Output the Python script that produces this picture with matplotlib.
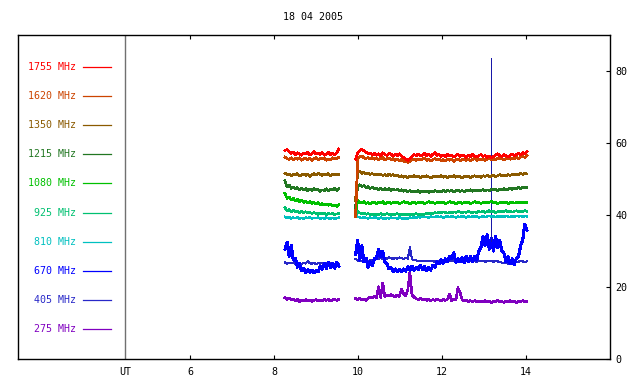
import numpy as np
import matplotlib
matplotlib.use("Agg")
import matplotlib.pyplot as plt

title = "18 04 2005"
freqs = ["1755", "1620", "1350", "1215", "1080", "925", "810", "670", "405", "275"]
colors = ["#ff0000", "#cc4400", "#8b5a00", "#227722", "#00c000",
          "#00c070", "#00c0c0", "#0000ff", "#2828c8", "#8000c0"]

# sampling times (UT hours) of the two recording segments
seg1_start, seg1_end, seg1_n = 8.26, 9.54, 27
seg2_start, seg2_end, seg2_n = 9.94, 14.02, 83

f1755_a = [57.9, 58.2, 57.6, 57.1, 57.5, 56.8, 57.3, 57.0, 56.6, 57.2, 56.9, 57.4, 56.7, 57.1, 57.6, 56.9, 57.2, 56.8, 57.3, 56.6, 57.0, 57.4, 56.8, 57.1, 56.7, 57.2, 58.3]
f1755_b = [55.5, 57.2, 57.9, 58.3, 57.8, 57.5, 57.0, 57.2, 56.8, 57.1,
           56.6, 57.0, 56.5, 57.3, 56.8, 56.6, 57.1, 56.9, 56.4, 56.8,
           56.5, 57.0, 56.3, 56.0, 55.5, 55.2, 55.6, 56.3, 56.8, 56.5,
           56.9, 56.4, 56.7, 57.1, 56.5, 56.8, 56.3, 56.9, 57.3, 56.6,
           56.8, 56.3, 56.7, 56.2, 56.9, 56.4, 56.7, 56.1, 56.5, 56.9,
           56.3, 56.7, 56.4, 56.0, 56.6, 56.2, 56.8, 56.4, 56.1, 56.5,
           56.8, 56.3, 56.5, 56.0, 56.4, 55.9, 56.2, 56.7, 57.0, 56.5,
           56.3, 56.8, 56.5, 56.2, 56.6, 56.9, 56.4, 56.8, 57.1, 56.7,
           57.3, 57.0, 57.6]

f1620_a = [56.1, 55.7, 55.4, 55.9, 55.3, 55.8, 55.5, 55.9, 55.2, 55.6, 55.8, 55.4, 55.7, 55.1, 55.6, 55.9, 55.3, 55.7, 55.5, 55.8, 55.2, 55.6, 55.4, 55.9, 55.5, 55.7, 56.0]
f1620_b = [39.5, 55.6, 56.2, 56.4, 55.9, 55.7, 56.0, 55.6, 55.9, 55.5,
           55.8, 55.4, 55.7, 55.9, 55.3, 55.6, 55.8, 55.4, 55.7, 55.2,
           55.5, 55.1, 55.4, 54.9, 55.0, 54.6, 54.9, 55.3, 55.5, 55.2,
           55.6, 55.3, 55.5, 55.8, 55.2, 55.5, 55.0, 55.4, 55.7, 55.3,
           55.6, 55.1, 55.4, 55.0, 55.5, 55.2, 55.6, 54.9, 55.3, 55.5,
           55.1, 55.4, 55.6, 55.2, 55.5, 55.0, 55.4, 55.7, 55.2, 55.5,
           55.3, 55.6, 55.2, 55.5, 55.7, 55.3, 55.6, 55.4, 55.8, 55.5,
           55.7, 55.3, 55.6, 55.9, 55.5, 55.8, 55.6, 56.0, 55.7, 56.1,
           56.3, 56.0, 56.5]

f1350_a = [51.6, 51.2, 51.4, 50.9, 51.3, 51.1, 51.5, 50.8, 51.2, 51.4, 51.0, 51.3, 50.7, 51.2, 51.5, 51.1, 51.6, 51.3, 51.0, 51.4, 51.2, 51.5, 50.9, 51.3, 51.1, 51.4, 51.2]
f1350_b = [44.0, 51.9, 52.1, 51.6, 51.8, 51.4, 51.7, 51.3, 51.5, 51.2,
           51.4, 51.1, 51.3, 51.0, 51.2, 50.9, 51.3, 51.0, 51.2, 50.8,
           51.1, 50.7, 50.9, 50.5, 50.8, 50.4, 50.7, 50.5, 50.9, 50.6,
           50.8, 50.4, 50.7, 50.5, 50.9, 50.6, 50.3, 50.7, 50.5, 50.8,
           50.6, 50.9, 50.5, 50.8, 50.4, 50.7, 50.6, 50.9, 50.5, 50.8,
           50.6, 50.3, 50.7, 50.5, 50.8, 50.4, 50.7, 50.9, 50.6, 50.8,
           50.5, 50.9, 50.7, 51.0, 50.6, 50.8, 51.1, 50.7, 50.9, 51.2,
           50.8, 51.1, 50.9, 51.2, 51.0, 51.3, 51.1, 51.4, 51.2, 51.5,
           51.3, 51.5, 51.4]

f1215_a = [49.5, 47.8, 48.3, 47.4, 47.8, 47.2, 47.6, 47.0, 47.5, 46.9, 47.3, 46.7, 47.2, 46.8, 47.4, 46.9, 47.1, 46.6, 47.0, 46.8, 47.3, 46.7, 47.1, 46.9, 47.4, 46.8, 47.2]
f1215_b = [42.0, 48.1, 48.4, 47.9, 48.2, 47.6, 47.9, 47.4, 47.7, 47.2,
           47.5, 47.1, 47.4, 46.9, 47.3, 47.0, 47.4, 46.8, 47.2, 46.9,
           47.1, 46.7, 47.0, 46.6, 46.9, 46.5, 46.8, 46.4, 46.7, 46.5,
           46.8, 46.3, 46.6, 46.4, 46.7, 46.3, 46.6, 46.4, 46.8, 46.5,
           46.7, 46.4, 46.8, 46.5, 46.9, 46.6, 46.8, 46.4, 46.7, 46.9,
           46.6, 46.8, 46.5, 46.9, 46.7, 47.0, 46.6, 46.9, 46.7, 47.0,
           46.8, 47.1, 46.7, 47.0, 46.8, 47.2, 46.9, 47.1, 46.8, 47.2,
           47.0, 47.3, 46.9, 47.2, 47.4, 47.1, 47.5, 47.2, 47.6, 47.4,
           47.7, 47.5, 47.6]

f1080_a = [46.0, 44.6, 45.0, 44.2, 44.6, 43.9, 44.3, 43.7, 44.1, 43.5, 43.8, 43.4, 43.7, 43.2, 43.5, 43.1, 43.4, 42.9, 43.2, 42.8, 43.1, 42.7, 42.9, 42.5, 42.8, 42.4, 42.9]
f1080_b = [40.5, 44.0, 43.6, 43.3, 43.7, 43.2, 43.5, 43.1, 43.4, 43.6,
           43.2, 43.5, 43.3, 43.7, 43.1, 43.4, 43.6, 43.2, 43.5, 43.3,
           43.6, 43.2, 43.4, 43.7, 43.3, 43.5, 43.1, 43.4, 43.6, 43.2,
           43.5, 43.3, 43.6, 43.2, 43.4, 43.7, 43.3, 43.5, 43.2, 43.4,
           43.6, 43.3, 43.5, 43.2, 43.4, 43.7, 43.3, 43.5, 43.1, 43.4,
           43.6, 43.2, 43.5, 43.3, 43.6, 43.2, 43.4, 43.7, 43.3, 43.5,
           43.2, 43.4, 43.6, 43.3, 43.5, 43.8, 43.3, 43.5, 43.2, 43.4,
           43.6, 43.3, 43.5, 43.2, 43.4, 43.6, 43.3, 43.5, 43.4, 43.6,
           43.3, 43.5, 43.4]

f925_a = [42.0, 41.2, 41.5, 40.9, 41.3, 40.8, 41.1, 40.7, 41.0, 40.6, 40.9, 40.5, 40.8, 40.4, 40.7, 40.5, 40.2, 40.6, 40.3, 40.5, 40.1, 40.4, 40.2, 40.5, 40.1, 40.3, 40.4]
f925_b = [39.8, 41.0, 40.6, 40.3, 40.5, 40.2, 40.4, 40.1, 40.3, 40.0,
          40.3, 40.1, 40.4, 40.0, 40.2, 40.4, 40.1, 40.3, 40.0, 40.2,
          40.4, 40.1, 40.3, 40.0, 40.2, 40.1, 40.3, 40.0, 40.2, 40.4,
          40.1, 40.3, 40.0, 40.2, 40.5, 40.3, 40.6, 40.4, 40.7, 40.5,
          40.8, 40.6, 40.9, 40.7, 40.5, 40.8, 40.6, 40.9, 40.7, 41.0,
          40.8, 40.6, 40.9, 40.7, 41.0, 40.8, 40.6, 40.9, 40.7, 41.0,
          40.8, 41.1, 40.7, 40.9, 41.2, 40.8, 41.0, 40.7, 40.9, 41.1,
          40.8, 41.0, 41.2, 40.9, 41.1, 40.8, 41.0, 41.2, 40.9, 41.1,
          41.0, 41.2, 41.0]

f810_a = [39.5, 39.2, 39.4, 39.0, 39.3, 39.1, 39.4, 39.0, 39.2, 38.9, 39.3, 39.1, 39.4, 39.0, 39.2, 39.1, 39.3, 38.9, 39.2, 39.0, 39.3, 39.1, 38.9, 39.2, 39.0, 39.1, 39.3]
f810_b = [39.6, 39.5, 39.3, 39.1, 39.4, 39.2, 39.0, 39.3, 39.1, 39.4,
          39.2, 39.0, 39.3, 39.1, 38.9, 39.2, 39.0, 39.3, 39.1, 39.2,
          39.0, 39.3, 39.1, 38.9, 39.2, 39.0, 39.3, 39.1, 39.4, 39.2,
          39.5, 39.3, 39.6, 39.4, 39.5, 39.3, 39.6, 39.4, 39.5, 39.7,
          39.4, 39.6, 39.3, 39.5, 39.7, 39.4, 39.6, 39.5, 39.3, 39.6,
          39.4, 39.7, 39.5, 39.3, 39.6, 39.4, 39.7, 39.5, 39.6, 39.3,
          39.5, 39.7, 39.4, 39.6, 39.8, 39.5, 39.7, 39.4, 39.6, 39.5,
          39.7, 39.5, 39.8, 39.6, 39.4, 39.7, 39.5, 39.8, 39.6, 39.7,
          39.5, 39.7, 39.6]

f670_a = [30.5, 32.5, 28.5, 31.5, 27.5, 28.0, 25.5, 26.5, 24.5, 25.2, 24.0, 24.8, 24.1, 24.7, 24.0, 24.6, 24.2, 25.8, 25.0, 26.5, 25.2, 26.8, 25.3, 26.6, 25.2, 26.8, 25.8]
f670_b = [29.0, 33.0, 27.5, 31.5, 27.0, 28.0, 25.5, 27.0, 26.0, 27.8,
          28.0, 30.5, 28.5, 30.0, 27.0, 26.5, 25.0, 25.3, 24.3, 25.0,
          24.2, 24.9, 24.3, 25.0, 24.4, 25.6, 24.6, 25.8, 24.7, 25.5,
          24.8, 26.0, 24.9, 25.6, 24.5, 25.5, 24.7, 26.0, 25.5, 27.0,
          26.5, 27.6, 26.6, 27.8, 27.0, 28.5, 27.8, 29.5, 26.8, 27.8,
          27.0, 28.2, 26.8, 28.5, 27.0, 28.4, 27.1, 28.6, 27.5, 30.0,
          31.0, 34.0, 31.5, 34.5, 30.5, 33.5, 30.0, 34.0, 31.0, 33.0,
          30.0, 29.5, 27.0, 28.5, 26.5, 27.8, 26.2, 28.0, 28.5, 31.5,
          33.0, 37.5, 35.8]
f670_spike_t = 13.16
f670_spike_v = 83.6

f405_a = [26.8, 26.5, 26.7, 26.6, 26.8, 26.5, 26.7, 26.6, 26.4, 26.7, 26.5, 27.2, 26.6, 26.5, 26.7, 26.4, 26.6, 26.5, 26.7, 26.4, 26.6, 26.5, 26.7, 26.5, 26.4, 26.6, 26.5]
f405_b = [27.8, 27.4, 27.2, 27.3, 27.1, 27.3, 27.2, 27.4, 27.3, 27.6,
          27.8, 27.9, 28.0, 27.8, 28.1, 27.9, 28.2, 28.0, 27.8, 28.1,
          27.9, 28.2, 28.0, 27.8, 28.1, 27.9, 31.0, 27.7, 27.5, 27.4,
          27.2, 27.3, 27.1, 27.3, 27.2, 27.1, 27.3, 27.2, 27.0, 27.2,
          27.3, 27.1, 27.2, 27.0, 27.3, 27.1, 27.2, 27.4, 27.1, 27.3,
          27.2, 27.0, 27.3, 27.1, 27.2, 27.4, 27.1, 27.3, 27.0, 27.2,
          27.1, 27.3, 27.0, 27.2, 27.1, 27.3, 27.0, 27.2, 27.1, 26.9,
          26.8, 26.6, 26.9, 26.5, 26.7, 26.4, 26.6, 26.9, 27.0, 27.3,
          27.1, 26.9, 27.1]

f275_a = [17.0, 16.6, 16.9, 16.4, 16.7, 16.2, 16.5, 16.0, 16.4, 16.1, 16.5, 16.2, 16.4, 16.0, 16.3, 16.5, 16.1, 16.4, 16.2, 16.6, 16.3, 16.5, 16.1, 16.4, 16.6, 16.3, 16.5]
f275_b = [16.8, 16.5, 16.9, 16.4, 16.7, 16.3, 16.8, 17.2, 16.9, 17.3,
          17.0, 20.1, 17.1, 21.1, 17.4, 17.8, 17.5, 17.9, 17.5, 17.3,
          17.8, 17.4, 19.4, 18.0, 17.5, 19.2, 24.0, 17.8, 17.2, 16.8,
          16.5, 16.8, 16.4, 16.7, 16.3, 16.6, 16.2, 16.5, 16.3, 16.6,
          16.4, 16.2, 16.5, 16.3, 16.6, 18.1, 16.2, 16.5, 16.4, 19.8,
          18.5, 16.5, 16.1, 16.3, 16.0, 16.2, 15.9, 16.2, 16.0, 15.8,
          16.1, 15.9, 16.2, 15.8, 16.0, 15.7, 16.1, 15.9, 16.3, 15.8,
          16.0, 15.7, 16.1, 15.9, 16.2, 15.8, 16.0, 15.7, 16.1, 15.9,
          16.2, 15.8, 16.0]

series = [(f1755_a, f1755_b), (f1620_a, f1620_b), (f1350_a, f1350_b),
          (f1215_a, f1215_b), (f1080_a, f1080_b), (f925_a, f925_b),
          (f810_a, f810_b), (f670_a, f670_b), (f405_a, f405_b),
          (f275_a, f275_b)]

x_ticks = [4.445, 6, 8, 10, 12, 14]
x_ticklabels = ["UT", "6", "8", "10", "12", "14"]
y_ticks = [0, 20, 40, 60, 80]

FONT = "DejaVu Sans Mono"
FS = 7.2

fig = plt.figure(figsize=(6.4, 3.84), dpi=100)
ax = fig.add_axes([18 / 640, 25 / 384, 592 / 640, 324 / 384])
ax.set_xlim(1.9, 16.0)
ax.set_ylim(0, 90)

t1 = np.linspace(seg1_start, seg1_end, seg1_n)
t2 = np.linspace(seg2_start, seg2_end, seg2_n)

widths = {"670": 1.5, "405": 0.8, "810": 1.0, "925": 1.1}

# draw from lowest frequency to highest so higher bands sit on top
for (a, b), c, fq in list(zip(series, colors, freqs))[::-1]:
    lw = widths.get(fq, 1.2)
    ax.plot(t1, a, color=c, lw=lw, antialiased=False)
    ax.plot(t2, b, color=c, lw=lw, antialiased=False)
    if fq == "670":
        base = np.interp(f670_spike_t, t2, b)
        ax.vlines(f670_spike_t, base, f670_spike_v, color="#1818a8",
                  lw=0.7, antialiased=False)

# UT separator line
ax.axvline(x_ticks[0], color="#707070", lw=1.0)

# left-hand legend
for i, (fq, c) in enumerate(zip(freqs, colors)):
    yf = 0.901 - 0.0898 * i
    ax.text(0.098, yf, f"{fq} MHz", color=c, transform=ax.transAxes,
            ha="right", va="center", fontsize=FS, family=FONT)
    ax.plot([0.110, 0.157], [yf, yf], color=c, lw=0.9,
            transform=ax.transAxes, clip_on=False)

ax.set_xticks(x_ticks)
ax.set_xticklabels(x_ticklabels, family=FONT, fontsize=FS)
ax.set_yticks(y_ticks)
ax.set_yticklabels([str(v) for v in y_ticks], family=FONT, fontsize=FS)
ax.yaxis.tick_right()
ax.tick_params(axis="x", direction="in", length=3, width=0.8, top=True,
               bottom=True, pad=6, colors="black")
ax.tick_params(axis="y", direction="in", length=3, width=0.8, left=False,
               right=True, labelright=True, labelleft=False, pad=4)
ax.xaxis.get_major_ticks()[0].tick1line.set_visible(False)
ax.xaxis.get_major_ticks()[0].tick2line.set_visible(False)
for s in ax.spines.values():
    s.set_linewidth(1.0)

fig.text(313 / 640, 1 - 17 / 384, title, ha="center", va="center",
         fontsize=FS, family=FONT)

fig.savefig("out.png", dpi=100)
